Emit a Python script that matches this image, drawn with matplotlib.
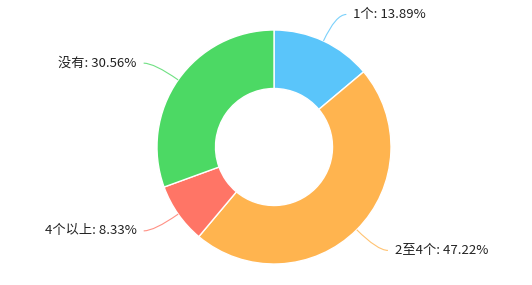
import numpy as np
import matplotlib.pyplot as plt
from matplotlib.path import Path
from matplotlib.patches import PathPatch

plt.rcParams['font.family'] = ['Noto Sans CJK SC', 'DejaVu Sans']

labels = ['1个', '2至4个', '4个以上', '没有']
values = [13.89, 47.22, 8.33, 30.56]
colors = ['#5AC5FA', '#FFB44F', '#FF7566', '#4CD964']

W, H = 532, 285
cx, cy, R = 274, 138, 117   # centre (px from left / bottom) and outer radius

fig = plt.figure(figsize=(W / 100, H / 100), dpi=100)
ax = fig.add_axes([0, 0, 1, 1])

wedges, _ = ax.pie(values, colors=colors, startangle=90, counterclock=False,
                   radius=1, wedgeprops=dict(width=0.5, edgecolor='white', linewidth=1))

# pie() resets the limits, so set them afterwards
ax.set_xlim(-cx / R, (W - cx) / R)
ax.set_ylim(-cy / R, (H - cy) / R)
ax.set_aspect('equal')
ax.axis('off')

for w, lab, val, col in zip(wedges, labels, values, colors):
    ang = np.deg2rad((w.theta1 + w.theta2) / 2)
    p0 = np.array([np.cos(ang), np.sin(ang)])
    p1 = p0 * 1.25
    side = 1 if p0[0] >= 0 else -1
    p2 = p1 + np.array([side * 0.09, 0])
    path = Path([p0, p1, p2], [Path.MOVETO, Path.CURVE3, Path.CURVE3])
    ax.add_patch(PathPatch(path, fill=False, edgecolor=col, lw=0.8, alpha=0.8))
    ax.text(p2[0] + side * 0.06, p2[1], f'{lab}: {val:.2f}%',
            ha='left' if side > 0 else 'right', va='center',
            fontsize=9.5, color='#222222')

fig.savefig('out.png', dpi=100, facecolor='white')
